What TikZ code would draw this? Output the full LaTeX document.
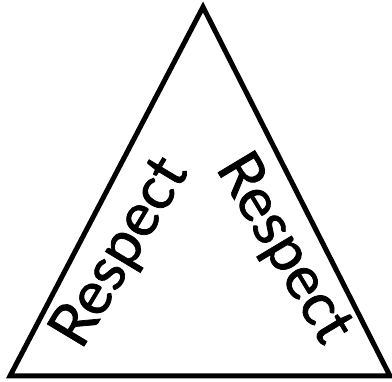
\documentclass[tikz,border=0pt]{standalone}
\usepackage{fontspec}
\setmainfont{Lato}
\newfontfamily\wordfont[FakeBold=1.3]{Lato}
\usepackage{tikz}
\usetikzlibrary{positioning}

\begin{document}
\begin{tikzpicture}[x=1pt,y=-1pt,
  word/.style={font=\wordfont\fontsize{60}{64}\selectfont, inner sep=0pt, anchor=center},
  edge/.style={line width=5pt, line join=miter}
]
  \useasboundingbox (0,0) rectangle (392,382);
  \coordinate (top) at (203,7);
  \coordinate (left) at (10,376);
  \coordinate (right) at (390,376);
  \draw[edge] (top) -- (left) -- (right) -- cycle;

  \node[word, rotate=59] (respL) at (121,253) {Respect};
  \node[word, rotate=-59] (respR) at (283,249) {Respect};
\end{tikzpicture}
\end{document}
